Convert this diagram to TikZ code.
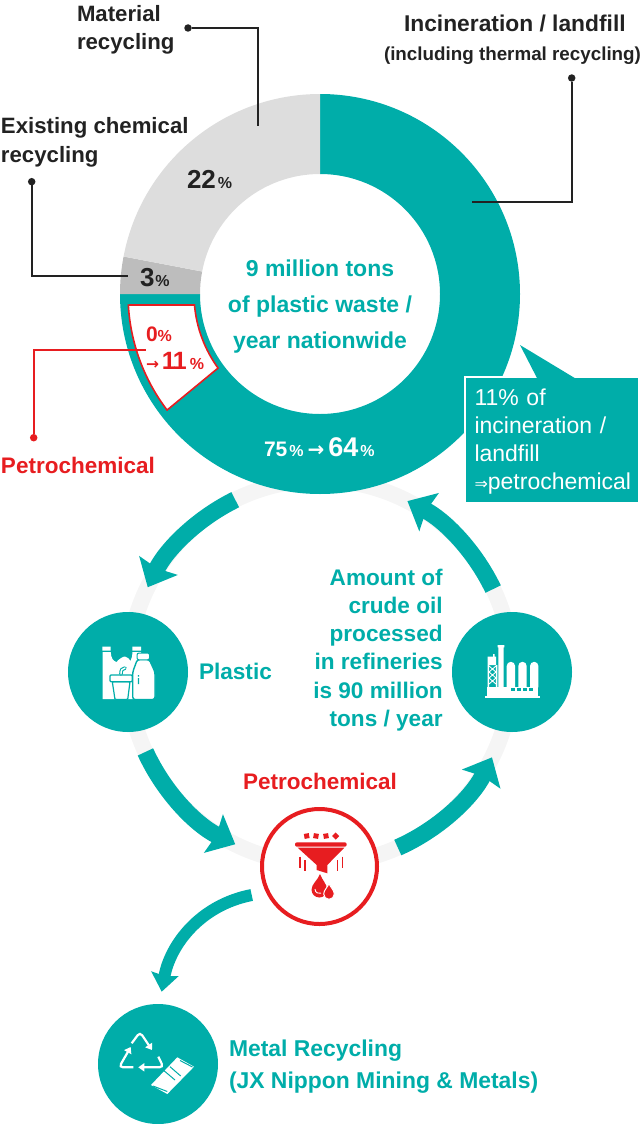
\documentclass[tikz,border=0pt]{standalone}
\usepackage{fontspec}
\setmainfont{Liberation Sans}
\newfontfamily\symfont{DejaVu Sans}
\usetikzlibrary{arrows.meta,calc,positioning}
\definecolor{teal}{HTML}{00ADA9}
\definecolor{inkred}{HTML}{E71D20}
\definecolor{inkdark}{HTML}{222222}
\definecolor{lightslice}{HTML}{DDDDDD}
\definecolor{darkslice}{HTML}{BDBDBD}
\definecolor{ringgrey}{HTML}{F5F5F5}
\newcommand{\fs}[2]{\fontsize{#1}{#2}\selectfont}
\newcommand{\pct}{{\fs{16}{16}\%}}
\newcommand{\slice}[3]{\fill[#1] ($(donut)+(#2:200)$) arc[start angle=#2,end angle=#3,radius=200] -- ($(donut)+(#3:120)$) arc[start angle=#3,end angle=#2,radius=120] -- cycle;}
\begin{document}
\begin{tikzpicture}[x=1pt,y=1pt,inner sep=0,outer sep=0]
    \tikzstyle{hub}=[circle, fill=teal, minimum size=120]
    \tikzstyle{redhub}=[circle, fill=white, draw=inkred, line width=4, minimum size=115]
    \tikzstyle{dot}=[circle, fill=inkdark, minimum size=7.5]
    \tikzstyle{reddot}=[circle, fill=inkred, minimum size=7.5]
    \tikzstyle{leader}=[inkdark, line width=2.2]
    \tikzstyle{redleader}=[inkred, line width=2.2]
    \tikzstyle{flow}=[teal, line width=17, -{Stealth[length=24pt,width=42pt,inset=3pt]}]
    \tikzstyle{label}=[inkdark, align=left, anchor=base west, font=\fs{22.2}{28.5}\bfseries]
    \tikzstyle{teallabel}=[label, teal, font=\fs{22.6}{28.2}\bfseries]
    \tikzstyle{redlabel}=[label, inkred, font=\fs{22.5}{28}\bfseries]
    \tikzstyle{recycle}=[white, line width=2.2, rounded corners=4, -{Triangle[length=6pt,width=8pt]}]
    \useasboundingbox (0,0) rectangle (642,-1124);

    \coordinate (cycle) at (320,-672);
    \coordinate (donut) at (320,-294);
    \draw[ringgrey, line width=16] (cycle) circle (192);

    \slice{teal}{90}{-180}
    \slice{darkslice}{180}{169.2}
    \slice{lightslice}{169.2}{90}
    \filldraw[fill=white, draw=inkred, line width=1.6, line join=miter]
      ($(donut)+(183.3:192)$) arc[start angle=183.3,end angle=217.2,radius=192]
      -- ($(donut)+(216:126)$) arc[start angle=216,end angle=185,radius=126] -- cycle;

    \node[fill=teal, draw=white, line width=2, minimum width=174, minimum height=126] (calloutbox) at (552,-440) {};
    \fill[teal] (520,-345) -- (538,-380) -- (578,-380) -- cycle;
    \node[text width=155, align=left, text=white, font=\fs{23}{28}] (callout) at (552,-442)
      {11\% of\\incineration /\\landfill\\{\symfont\fs{16}{28}⇒}petrochemical};

    \node[reddot] (petrodot) at (33.7,-437.7) {};
    \node[dot] (materialdot) at (188,-28) {};
    \node[dot] (existingdot) at (31.7,-181.7) {};
    \node[dot] (incinerationdot) at (571.7,-78) {};
    \coordinate (materialend) at (258.3,-126);
    \coordinate (existingend) at (128,-276);
    \coordinate (incinerationend) at (472.3,-201.7);
    \coordinate (petroend) at (146,-349.7);
    \draw[leader] (materialdot) -| (materialend);
    \draw[leader] (existingdot) |- (existingend);
    \draw[leader] (incinerationdot) |- (incinerationend);
    \draw[redleader] (petrodot) |- (petroend);

    \node[label] (material) at (77,-50) {Material\\recycling};
    \node[label] (existing) at (1,-162) {Existing chemical\\recycling};
    \node[label, font=\fs{22.8}{28}\bfseries] (incineration) at (404,-32) {Incineration / landfill};
    \node[label, font=\fs{18.8}{28}\bfseries] (thermal) at (384,-60) {(including thermal recycling)};
    \node[redlabel] (petrolabel) at (1,-473) {Petrochemical};

    \node[teallabel, align=center, anchor=center, font=\fs{23}{36}\bfseries] (waste) at (320,-306.5) {9 million tons\\of plastic waste /\\year nationwide};
    \node[label, font=\fs{26}{26}\bfseries] (pctmaterial) at (187,-188) {22\kern2pt\pct};
    \node[label, font=\fs{26}{26}\bfseries] (pctexisting) at (140,-286) {3\kern1pt\pct};
    \node[redlabel, font=\fs{21}{21}\bfseries] (pctzero) at (146,-341) {0\pct};
    \node[redlabel, font=\fs{25}{25}\bfseries] (pctpetro) at (146,-369) {{\symfont\fs{15.5}{15}→}\kern3pt 1\kern-3pt 1\kern3pt\pct};
    \node[label, text=white, font=\fs{21}{21}\bfseries] (pctburn) at (264,-456) {75\kern2pt\pct\kern4pt{\symfont\fs{20}{20}→}\kern4pt{\fs{27}{27}64}\kern2pt\pct};

    \foreach \n/\a/\b in {1/116.2/153.8, 2/204.6/243.8, 3/-66.1/-26.4, 4/25.6/62.9} {
      \coordinate (flow\n) at ($(cycle)+(\a:192)$);
      \draw[flow] (flow\n) arc[start angle=\a,end angle=\b,radius=192];
    }

    \node[hub] (plastic) at (128,-672) {};
    \node[hub] (refinery) at (512,-672) {};
    \node[redhub] (petro) at (319.5,-866.5) {};
    \node[hub] (metal) at (158,-1064) {};

    \coordinate (metalout) at (251.7,-895);
    \coordinate (metalin) at (161.7,-991.7);
    \draw[flow, line width=12, -{Stealth[length=18pt,width=27pt,inset=2pt]}] (metalout) .. controls (200,-905) and (170,-945) .. (metalin);

    \node[teallabel] (plasticlabel) at (199,-679) {Plastic};
    \node[teallabel, align=right, anchor=center] (crude) at (378,-650) {Amount of\\crude oil\\processed\\in refineries\\is 90 million\\tons / year};
    \node[redlabel, anchor=base] (petrotop) at (320,-789) {Petrochemical};
    \node[teallabel, font=\fs{22.9}{32}\bfseries] (metallabel) at (229,-1088) {Metal Recycling\\(JX Nippon Mining \& Metals)};

    % plastic icon
    \fill[white] (102.3,-646.7) rectangle (110.7,-650.7) (132.3,-646.7) rectangle (141,-650.7);
    \fill[white] (102.7,-652) -- (110.7,-652) .. controls (111,-658) and (113,-661) .. (116.5,-662) .. controls (119,-659) and (123,-656.5) .. (125,-656.5) .. controls (127,-657) and (130,-659) .. (130.5,-661) .. controls (132,-658) and (132.5,-655) .. (132.5,-652) -- (141,-652) -- (141,-699) -- (102.7,-699) -- cycle;
    \filldraw[fill=white, draw=teal, line width=1.2, rounded corners=1] (112.3,-681.7) -- (115,-699.5) -- (127.7,-699.5) -- (130,-681.7) -- cycle;
    \filldraw[fill=white, draw=teal, line width=1.2, rounded corners=1] (110,-675) rectangle (132.3,-681.7);
    \draw[teal, line width=3.6, line cap=round] (121,-674) .. controls (121,-670) and (122,-668.5) .. (125,-668);
    \draw[white, line width=1.4, line cap=round] (121,-674) .. controls (121,-670) and (122,-668.5) .. (125,-668);
    \filldraw[fill=white, draw=teal, line width=1.4, rounded corners=2.5] (137.3,-659.5) -- (132.7,-672) -- (132.7,-699.5) -- (155,-699.5) -- (155,-672) -- (149.3,-659.5) -- cycle;
    \filldraw[fill=white, draw=teal, line width=1, rounded corners=2] (137,-653) rectangle (149.6,-659.8);
    \fill[teal] (137.8,-675) rectangle (139,-676.5) (137.8,-678) rectangle (139,-684);

    % refinery icon
    \fill[white] (485,-696) rectangle (540,-698.3);
    \fill[white] (486.7,-687) rectangle (538.3,-696.5);
    \fill[white] (498.3,-647) rectangle (503.7,-687.3) (497.7,-645) rectangle (504.3,-647.4);
    \fill[white] (487.7,-656.7) rectangle (496,-665) (493,-656.7) rectangle (494.5,-654);
    \fill[white] (487.7,-665) rectangle (489.2,-687.3) (495.8,-665) rectangle (497.3,-687.3);
    \draw[white, line width=0.9] (489,-666) -- (496,-672) -- (489,-678) -- (496,-684) (496,-666) -- (489,-672) -- (496,-678) -- (489,-684);
    \foreach \x in {506.7,518.3,530} {
      \fill[white] (\x,-687.3) -- (\x,-666) arc[start angle=180,end angle=0,radius=4.2] -- (\x+8.4,-687.3) -- cycle;
    }
    \foreach \x in {510.7,516.7,522.7,528.7} {
      \fill[teal] (\x,-687.6) rectangle (\x+4.4,-691);
    }

    % funnel icon
    \fill[inkred, rounded corners=2] (295,-842.3) rectangle (346.7,-846.7);
    \fill[inkred] (297.7,-847.7) -- (344.3,-847.7) -- (327.3,-865) -- (327.3,-873.3) -- (316.7,-870) -- (316.7,-865) -- cycle;
    \foreach \x/\t in {306.7/10, 316/-10, 326/10, 335.7/45} {
      \fill[inkred, rotate around={\t:(\x,-836)}] (\x-2.5,-838.5) rectangle (\x+2.5,-833.5);
    }
    \draw[inkred, line width=1.5] (300,-856.7) -- (300,-867.7) (305,-860) -- (305,-870.7) (337.7,-860) -- (337.7,-870.7) (342.7,-856.7) -- (342.7,-867.7);
    \fill[inkred] (320,-874) .. controls (318,-880) and (311.5,-884) .. (311.5,-889.7) arc[start angle=180,end angle=360,radius=7.8] .. controls (327.1,-884) and (322,-880) .. (320,-874) -- cycle;
    \draw[white, line width=0.9] (315,-889) arc[start angle=180,end angle=290,radius=4.5];
    \filldraw[fill=inkred, draw=white, line width=1] (329,-883.3) .. controls (328,-887) and (323.7,-890) .. (323.7,-894) arc[start angle=180,end angle=360,radius=5.3] .. controls (334.3,-890) and (330,-887) .. (329,-883.3) -- cycle;

    % recycling icon
    \draw[recycle] (131.7,-1043.3) -- (140,-1032) -- (152,-1050);
    \draw[recycle] (158.3,-1056.7) -- (163.5,-1067.3) -- (138.3,-1067.3);
    \draw[recycle] (133.3,-1067.3) -- (119,-1067.3) -- (130.7,-1047);
    \fill[white] (151,-1085) -- (177.3,-1057.3) -- (194,-1066.7) -- (167.3,-1094) -- cycle;
    \draw[teal, line width=1] (164,-1070.7) -- (175,-1080) (170,-1066.7) -- (180.7,-1076);
    \draw[teal, line width=1] (153,-1086) -- (167.3,-1091.5) (180,-1060.5) -- (192.5,-1067);
\end{tikzpicture}
\end{document}
